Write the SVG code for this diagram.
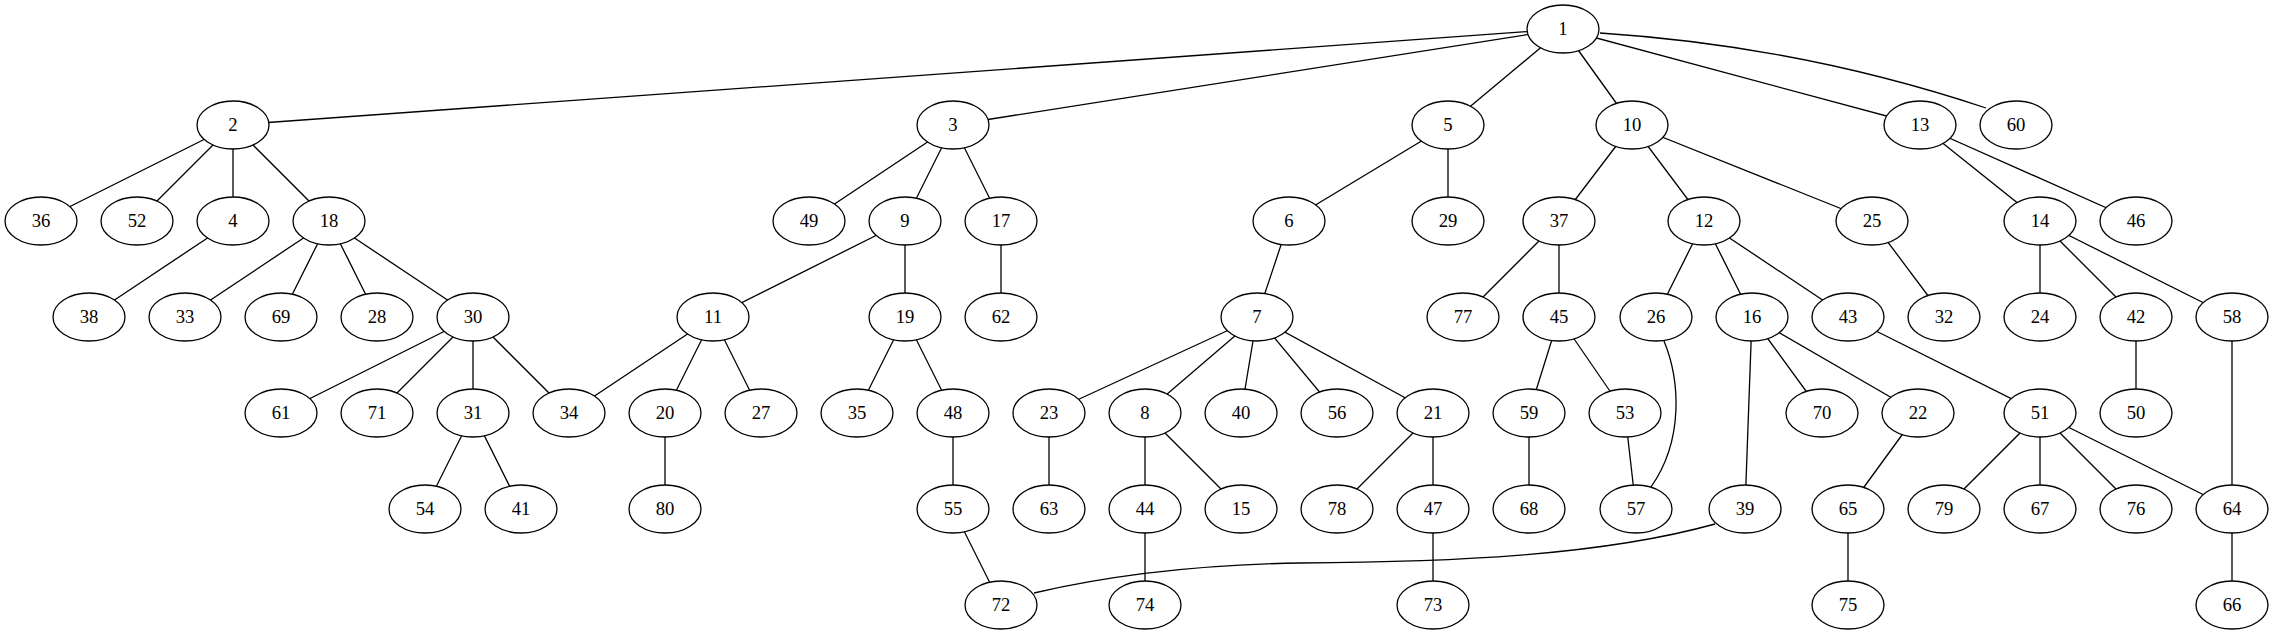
<svg xmlns="http://www.w3.org/2000/svg" width="2273" height="635" viewBox="0 0 2273 635">
<style>
.n ellipse{fill:#fff;stroke:#000;stroke-width:1.3}
.n text{font-family:"Liberation Serif","Times New Roman",serif;font-size:18.67px;text-anchor:middle;fill:#000}
#edges line,#edges path{stroke:#000;stroke-width:1.3;fill:none}
</style>
<rect width="2273" height="635" fill="#fff"/>
<g id="edges">
<line x1="1563" y1="29" x2="233" y2="125"/>
<line x1="1563" y1="29" x2="953" y2="125"/>
<line x1="1563" y1="29" x2="1448" y2="125"/>
<line x1="1563" y1="29" x2="1632" y2="125"/>
<line x1="1563" y1="29" x2="1920" y2="125"/>
<path d="M1600,33 Q1800,46 1986,108"/>
<line x1="233" y1="125" x2="41" y2="221"/>
<line x1="233" y1="125" x2="137" y2="221"/>
<line x1="233" y1="125" x2="233" y2="221"/>
<line x1="233" y1="125" x2="329" y2="221"/>
<line x1="233" y1="221" x2="89" y2="317"/>
<line x1="329" y1="221" x2="185" y2="317"/>
<line x1="329" y1="221" x2="281" y2="317"/>
<line x1="329" y1="221" x2="377" y2="317"/>
<line x1="329" y1="221" x2="473" y2="317"/>
<line x1="473" y1="317" x2="281" y2="413"/>
<line x1="473" y1="317" x2="377" y2="413"/>
<line x1="473" y1="317" x2="473" y2="413"/>
<line x1="473" y1="317" x2="569" y2="413"/>
<line x1="473" y1="413" x2="425" y2="509"/>
<line x1="473" y1="413" x2="521" y2="509"/>
<line x1="953" y1="125" x2="809" y2="221"/>
<line x1="953" y1="125" x2="905" y2="221"/>
<line x1="953" y1="125" x2="1001" y2="221"/>
<line x1="905" y1="221" x2="713" y2="317"/>
<line x1="905" y1="221" x2="905" y2="317"/>
<line x1="713" y1="317" x2="569" y2="413"/>
<line x1="713" y1="317" x2="665" y2="413"/>
<line x1="713" y1="317" x2="761" y2="413"/>
<line x1="665" y1="413" x2="665" y2="509"/>
<line x1="905" y1="317" x2="857" y2="413"/>
<line x1="905" y1="317" x2="953" y2="413"/>
<line x1="953" y1="413" x2="953" y2="509"/>
<line x1="953" y1="509" x2="1001" y2="605"/>
<line x1="1001" y1="221" x2="1001" y2="317"/>
<line x1="1448" y1="125" x2="1289" y2="221"/>
<line x1="1448" y1="125" x2="1448" y2="221"/>
<line x1="1289" y1="221" x2="1257" y2="317"/>
<line x1="1257" y1="317" x2="1049" y2="413"/>
<line x1="1257" y1="317" x2="1145" y2="413"/>
<line x1="1257" y1="317" x2="1241" y2="413"/>
<line x1="1257" y1="317" x2="1337" y2="413"/>
<line x1="1257" y1="317" x2="1433" y2="413"/>
<line x1="1049" y1="413" x2="1049" y2="509"/>
<line x1="1145" y1="413" x2="1145" y2="509"/>
<line x1="1145" y1="413" x2="1241" y2="509"/>
<line x1="1145" y1="509" x2="1145" y2="605"/>
<line x1="1433" y1="413" x2="1337" y2="509"/>
<line x1="1433" y1="413" x2="1433" y2="509"/>
<line x1="1433" y1="509" x2="1433" y2="605"/>
<line x1="1632" y1="125" x2="1559" y2="221"/>
<line x1="1632" y1="125" x2="1704" y2="221"/>
<line x1="1632" y1="125" x2="1872" y2="221"/>
<line x1="1559" y1="221" x2="1463" y2="317"/>
<line x1="1559" y1="221" x2="1559" y2="317"/>
<line x1="1559" y1="317" x2="1529" y2="413"/>
<line x1="1559" y1="317" x2="1625" y2="413"/>
<line x1="1529" y1="413" x2="1529" y2="509"/>
<line x1="1625" y1="413" x2="1636" y2="509"/>
<line x1="1704" y1="221" x2="1656" y2="317"/>
<line x1="1704" y1="221" x2="1752" y2="317"/>
<line x1="1704" y1="221" x2="1848" y2="317"/>
<path d="M1664,341 C1680,380 1684,440 1651,487"/>
<line x1="1752" y1="317" x2="1745" y2="509"/>
<line x1="1752" y1="317" x2="1822" y2="413"/>
<line x1="1752" y1="317" x2="1918" y2="413"/>
<path d="M1715,524 C1600,556 1450,562 1300,563 C1180,565 1090,580 1034,593"/>
<line x1="1918" y1="413" x2="1848" y2="509"/>
<line x1="1848" y1="509" x2="1848" y2="605"/>
<line x1="1848" y1="317" x2="2040" y2="413"/>
<line x1="1872" y1="221" x2="1944" y2="317"/>
<line x1="1920" y1="125" x2="2040" y2="221"/>
<line x1="1920" y1="125" x2="2136" y2="221"/>
<line x1="2040" y1="221" x2="2040" y2="317"/>
<line x1="2040" y1="221" x2="2136" y2="317"/>
<line x1="2040" y1="221" x2="2232" y2="317"/>
<line x1="2136" y1="317" x2="2136" y2="413"/>
<line x1="2232" y1="317" x2="2232" y2="509"/>
<line x1="2040" y1="413" x2="1944" y2="509"/>
<line x1="2040" y1="413" x2="2040" y2="509"/>
<line x1="2040" y1="413" x2="2136" y2="509"/>
<line x1="2040" y1="413" x2="2232" y2="509"/>
<line x1="2232" y1="509" x2="2232" y2="605"/>
</g>
<g id="node1" class="n"><ellipse cx="1563" cy="29" rx="36" ry="24"/><text x="1563" y="35">1</text></g>
<g id="node2" class="n"><ellipse cx="233" cy="125" rx="36" ry="24"/><text x="233" y="131">2</text></g>
<g id="node3" class="n"><ellipse cx="953" cy="125" rx="36" ry="24"/><text x="953" y="131">3</text></g>
<g id="node5" class="n"><ellipse cx="1448" cy="125" rx="36" ry="24"/><text x="1448" y="131">5</text></g>
<g id="node10" class="n"><ellipse cx="1632" cy="125" rx="36" ry="24"/><text x="1632" y="131">10</text></g>
<g id="node13" class="n"><ellipse cx="1920" cy="125" rx="36" ry="24"/><text x="1920" y="131">13</text></g>
<g id="node60" class="n"><ellipse cx="2016" cy="125" rx="36" ry="24"/><text x="2016" y="131">60</text></g>
<g id="node36" class="n"><ellipse cx="41" cy="221" rx="36" ry="24"/><text x="41" y="227">36</text></g>
<g id="node52" class="n"><ellipse cx="137" cy="221" rx="36" ry="24"/><text x="137" y="227">52</text></g>
<g id="node4" class="n"><ellipse cx="233" cy="221" rx="36" ry="24"/><text x="233" y="227">4</text></g>
<g id="node18" class="n"><ellipse cx="329" cy="221" rx="36" ry="24"/><text x="329" y="227">18</text></g>
<g id="node49" class="n"><ellipse cx="809" cy="221" rx="36" ry="24"/><text x="809" y="227">49</text></g>
<g id="node9" class="n"><ellipse cx="905" cy="221" rx="36" ry="24"/><text x="905" y="227">9</text></g>
<g id="node17" class="n"><ellipse cx="1001" cy="221" rx="36" ry="24"/><text x="1001" y="227">17</text></g>
<g id="node6" class="n"><ellipse cx="1289" cy="221" rx="36" ry="24"/><text x="1289" y="227">6</text></g>
<g id="node29" class="n"><ellipse cx="1448" cy="221" rx="36" ry="24"/><text x="1448" y="227">29</text></g>
<g id="node37" class="n"><ellipse cx="1559" cy="221" rx="36" ry="24"/><text x="1559" y="227">37</text></g>
<g id="node12" class="n"><ellipse cx="1704" cy="221" rx="36" ry="24"/><text x="1704" y="227">12</text></g>
<g id="node25" class="n"><ellipse cx="1872" cy="221" rx="36" ry="24"/><text x="1872" y="227">25</text></g>
<g id="node14" class="n"><ellipse cx="2040" cy="221" rx="36" ry="24"/><text x="2040" y="227">14</text></g>
<g id="node46" class="n"><ellipse cx="2136" cy="221" rx="36" ry="24"/><text x="2136" y="227">46</text></g>
<g id="node38" class="n"><ellipse cx="89" cy="317" rx="36" ry="24"/><text x="89" y="323">38</text></g>
<g id="node33" class="n"><ellipse cx="185" cy="317" rx="36" ry="24"/><text x="185" y="323">33</text></g>
<g id="node69" class="n"><ellipse cx="281" cy="317" rx="36" ry="24"/><text x="281" y="323">69</text></g>
<g id="node28" class="n"><ellipse cx="377" cy="317" rx="36" ry="24"/><text x="377" y="323">28</text></g>
<g id="node30" class="n"><ellipse cx="473" cy="317" rx="36" ry="24"/><text x="473" y="323">30</text></g>
<g id="node11" class="n"><ellipse cx="713" cy="317" rx="36" ry="24"/><text x="713" y="323">11</text></g>
<g id="node19" class="n"><ellipse cx="905" cy="317" rx="36" ry="24"/><text x="905" y="323">19</text></g>
<g id="node62" class="n"><ellipse cx="1001" cy="317" rx="36" ry="24"/><text x="1001" y="323">62</text></g>
<g id="node7" class="n"><ellipse cx="1257" cy="317" rx="36" ry="24"/><text x="1257" y="323">7</text></g>
<g id="node77" class="n"><ellipse cx="1463" cy="317" rx="36" ry="24"/><text x="1463" y="323">77</text></g>
<g id="node45" class="n"><ellipse cx="1559" cy="317" rx="36" ry="24"/><text x="1559" y="323">45</text></g>
<g id="node26" class="n"><ellipse cx="1656" cy="317" rx="36" ry="24"/><text x="1656" y="323">26</text></g>
<g id="node16" class="n"><ellipse cx="1752" cy="317" rx="36" ry="24"/><text x="1752" y="323">16</text></g>
<g id="node43" class="n"><ellipse cx="1848" cy="317" rx="36" ry="24"/><text x="1848" y="323">43</text></g>
<g id="node32" class="n"><ellipse cx="1944" cy="317" rx="36" ry="24"/><text x="1944" y="323">32</text></g>
<g id="node24" class="n"><ellipse cx="2040" cy="317" rx="36" ry="24"/><text x="2040" y="323">24</text></g>
<g id="node42" class="n"><ellipse cx="2136" cy="317" rx="36" ry="24"/><text x="2136" y="323">42</text></g>
<g id="node58" class="n"><ellipse cx="2232" cy="317" rx="36" ry="24"/><text x="2232" y="323">58</text></g>
<g id="node61" class="n"><ellipse cx="281" cy="413" rx="36" ry="24"/><text x="281" y="419">61</text></g>
<g id="node71" class="n"><ellipse cx="377" cy="413" rx="36" ry="24"/><text x="377" y="419">71</text></g>
<g id="node31" class="n"><ellipse cx="473" cy="413" rx="36" ry="24"/><text x="473" y="419">31</text></g>
<g id="node34" class="n"><ellipse cx="569" cy="413" rx="36" ry="24"/><text x="569" y="419">34</text></g>
<g id="node20" class="n"><ellipse cx="665" cy="413" rx="36" ry="24"/><text x="665" y="419">20</text></g>
<g id="node27" class="n"><ellipse cx="761" cy="413" rx="36" ry="24"/><text x="761" y="419">27</text></g>
<g id="node35" class="n"><ellipse cx="857" cy="413" rx="36" ry="24"/><text x="857" y="419">35</text></g>
<g id="node48" class="n"><ellipse cx="953" cy="413" rx="36" ry="24"/><text x="953" y="419">48</text></g>
<g id="node23" class="n"><ellipse cx="1049" cy="413" rx="36" ry="24"/><text x="1049" y="419">23</text></g>
<g id="node8" class="n"><ellipse cx="1145" cy="413" rx="36" ry="24"/><text x="1145" y="419">8</text></g>
<g id="node40" class="n"><ellipse cx="1241" cy="413" rx="36" ry="24"/><text x="1241" y="419">40</text></g>
<g id="node56" class="n"><ellipse cx="1337" cy="413" rx="36" ry="24"/><text x="1337" y="419">56</text></g>
<g id="node21" class="n"><ellipse cx="1433" cy="413" rx="36" ry="24"/><text x="1433" y="419">21</text></g>
<g id="node59" class="n"><ellipse cx="1529" cy="413" rx="36" ry="24"/><text x="1529" y="419">59</text></g>
<g id="node53" class="n"><ellipse cx="1625" cy="413" rx="36" ry="24"/><text x="1625" y="419">53</text></g>
<g id="node70" class="n"><ellipse cx="1822" cy="413" rx="36" ry="24"/><text x="1822" y="419">70</text></g>
<g id="node22" class="n"><ellipse cx="1918" cy="413" rx="36" ry="24"/><text x="1918" y="419">22</text></g>
<g id="node51" class="n"><ellipse cx="2040" cy="413" rx="36" ry="24"/><text x="2040" y="419">51</text></g>
<g id="node50" class="n"><ellipse cx="2136" cy="413" rx="36" ry="24"/><text x="2136" y="419">50</text></g>
<g id="node54" class="n"><ellipse cx="425" cy="509" rx="36" ry="24"/><text x="425" y="515">54</text></g>
<g id="node41" class="n"><ellipse cx="521" cy="509" rx="36" ry="24"/><text x="521" y="515">41</text></g>
<g id="node80" class="n"><ellipse cx="665" cy="509" rx="36" ry="24"/><text x="665" y="515">80</text></g>
<g id="node55" class="n"><ellipse cx="953" cy="509" rx="36" ry="24"/><text x="953" y="515">55</text></g>
<g id="node63" class="n"><ellipse cx="1049" cy="509" rx="36" ry="24"/><text x="1049" y="515">63</text></g>
<g id="node44" class="n"><ellipse cx="1145" cy="509" rx="36" ry="24"/><text x="1145" y="515">44</text></g>
<g id="node15" class="n"><ellipse cx="1241" cy="509" rx="36" ry="24"/><text x="1241" y="515">15</text></g>
<g id="node78" class="n"><ellipse cx="1337" cy="509" rx="36" ry="24"/><text x="1337" y="515">78</text></g>
<g id="node47" class="n"><ellipse cx="1433" cy="509" rx="36" ry="24"/><text x="1433" y="515">47</text></g>
<g id="node68" class="n"><ellipse cx="1529" cy="509" rx="36" ry="24"/><text x="1529" y="515">68</text></g>
<g id="node57" class="n"><ellipse cx="1636" cy="509" rx="36" ry="24"/><text x="1636" y="515">57</text></g>
<g id="node39" class="n"><ellipse cx="1745" cy="509" rx="36" ry="24"/><text x="1745" y="515">39</text></g>
<g id="node65" class="n"><ellipse cx="1848" cy="509" rx="36" ry="24"/><text x="1848" y="515">65</text></g>
<g id="node79" class="n"><ellipse cx="1944" cy="509" rx="36" ry="24"/><text x="1944" y="515">79</text></g>
<g id="node67" class="n"><ellipse cx="2040" cy="509" rx="36" ry="24"/><text x="2040" y="515">67</text></g>
<g id="node76" class="n"><ellipse cx="2136" cy="509" rx="36" ry="24"/><text x="2136" y="515">76</text></g>
<g id="node64" class="n"><ellipse cx="2232" cy="509" rx="36" ry="24"/><text x="2232" y="515">64</text></g>
<g id="node72" class="n"><ellipse cx="1001" cy="605" rx="36" ry="24"/><text x="1001" y="611">72</text></g>
<g id="node74" class="n"><ellipse cx="1145" cy="605" rx="36" ry="24"/><text x="1145" y="611">74</text></g>
<g id="node73" class="n"><ellipse cx="1433" cy="605" rx="36" ry="24"/><text x="1433" y="611">73</text></g>
<g id="node75" class="n"><ellipse cx="1848" cy="605" rx="36" ry="24"/><text x="1848" y="611">75</text></g>
<g id="node66" class="n"><ellipse cx="2232" cy="605" rx="36" ry="24"/><text x="2232" y="611">66</text></g>
</svg>
